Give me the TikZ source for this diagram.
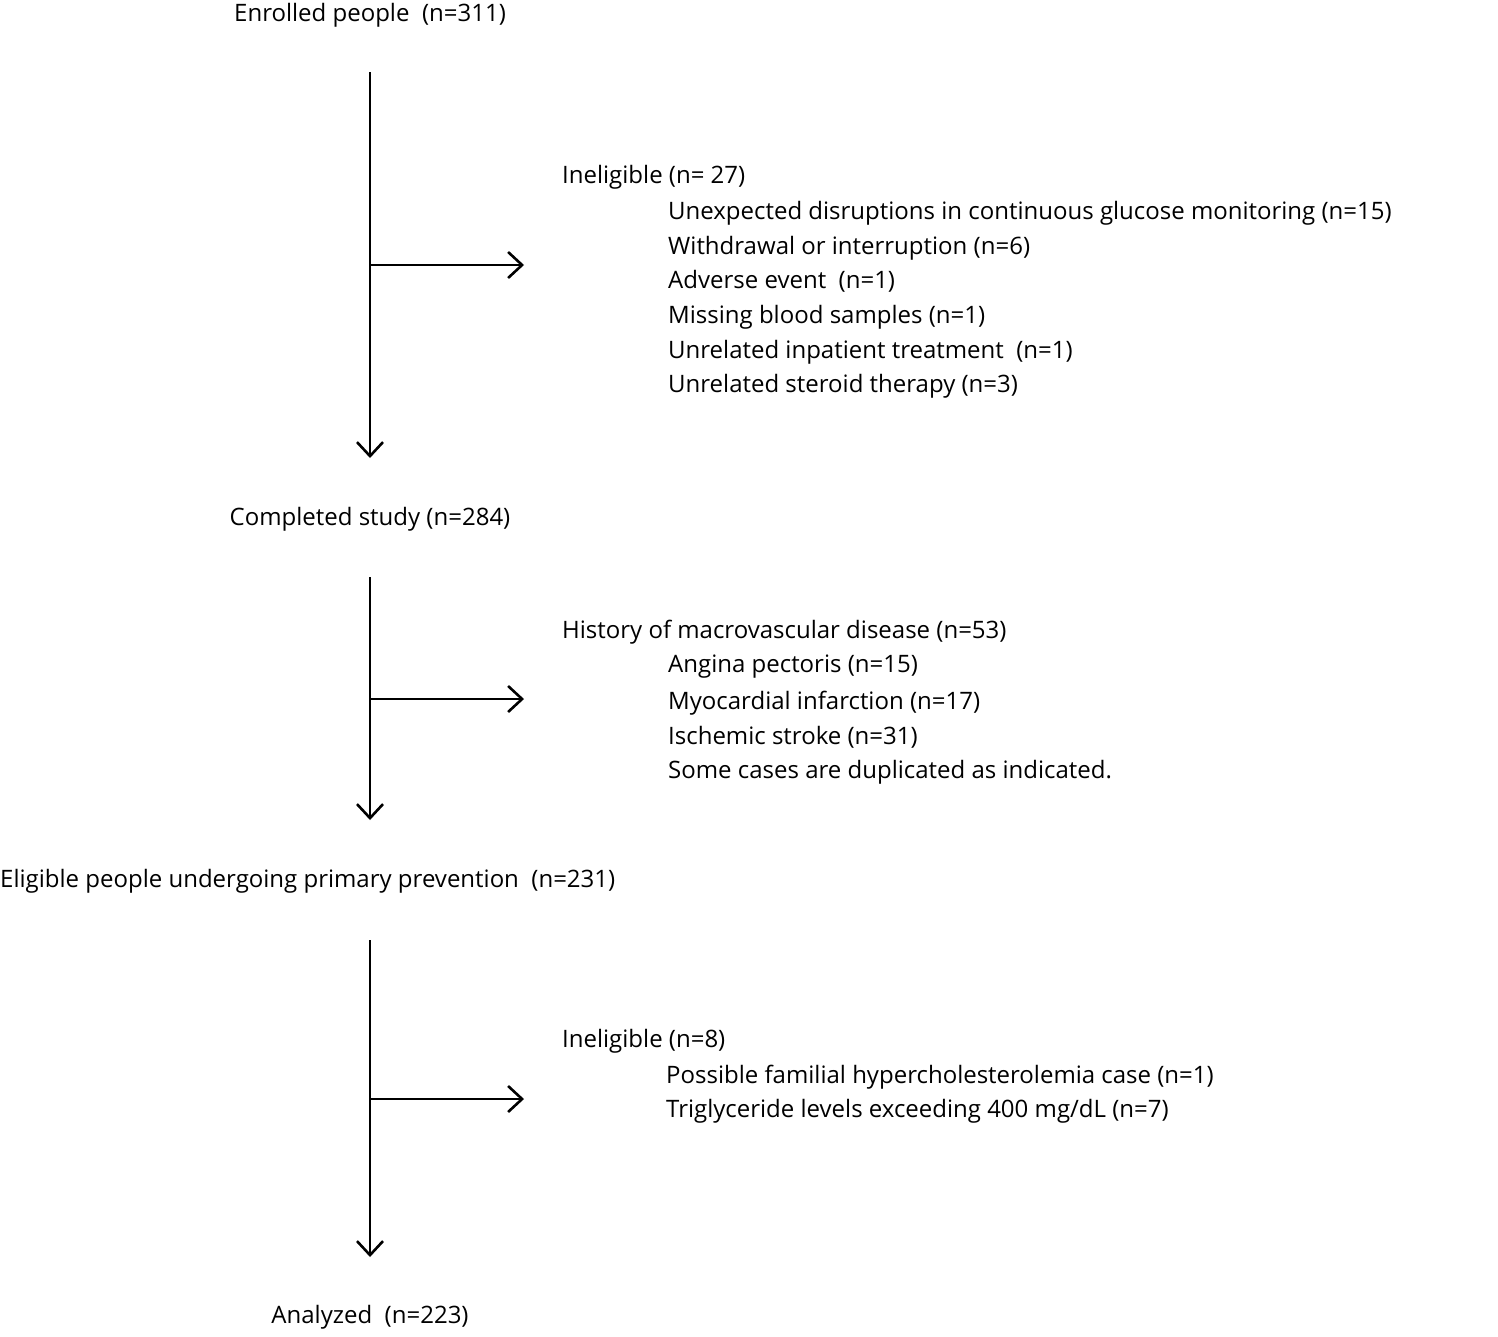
\documentclass[tikz,border=0pt]{standalone}
\usepackage{fontspec}
\setmainfont{Open Sans}
\usetikzlibrary{arrows.meta}
\begin{document}
\begin{tikzpicture}[x=1pt,y=-1pt,
  txt/.style={inner sep=0pt,anchor=west,font=\fontsize{24}{28}\selectfont},
  ctxt/.style={inner sep=0pt,anchor=center,font=\fontsize{24}{28}\selectfont},
  arr/.style={line width=2.6pt,-{Straight Barb[length=14pt,width=26pt,line width=2.6pt]}},
  ln/.style={line width=2.6pt}]
\useasboundingbox (0,0) rectangle (1498,1336);
\node[ctxt] (enr) at (370,15) {Enrolled people~ (n=311)};
\coordinate (a1) at (370,72); \coordinate (b1) at (370,458);
\coordinate (m1) at (370,265); \coordinate (e1) at (524,265);
\draw[arr] (a1) -- (b1);
\draw[arr] (m1) -- (e1);
\node[txt] (i1) at (562,177) {Ineligible (n= 27)};
\node[txt] (i1a) at (668,213) {Unexpected disruptions in continuous glucose monitoring (n=15)};
\node[txt] (i1b) at (668,248) {Withdrawal or interruption (n=6)};
\node[txt] (i1c) at (668,281) {Adverse event~ (n=1)};
\node[txt] (i1d) at (668,317) {Missing blood samples (n=1)};
\node[txt] (i1e) at (668,352) {Unrelated inpatient treatment~ (n=1)};
\node[txt] (i1f) at (668,386) {Unrelated steroid therapy (n=3)};
\node[ctxt] (comp) at (370,519) {Completed study (n=284)};
\coordinate (a2) at (370,577); \coordinate (b2) at (370,820);
\coordinate (m2) at (370,699); \coordinate (e2) at (524,699);
\draw[arr] (a2) -- (b2);
\draw[arr] (m2) -- (e2);
\node[txt] (h) at (562,632) {History of macrovascular disease (n=53)};
\node[txt] (ha) at (668,667) {Angina pectoris (n=15)};
\node[txt] (hb) at (668,703) {Myocardial infarction (n=17)};
\node[txt] (hc) at (668,737) {Ischemic stroke (n=31)};
\node[txt] (hd) at (668,772) {Some cases are duplicated as indicated.};
\node[txt] (elig) at (0,881) {Eligible people undergoing primary prevention~ (n=231)};
\coordinate (a3) at (370,940); \coordinate (b3) at (370,1257);
\coordinate (m3) at (370,1099); \coordinate (e3) at (524,1099);
\draw[arr] (a3) -- (b3);
\draw[arr] (m3) -- (e3);
\node[txt] (i3) at (562,1041) {Ineligible (n=8)};
\node[txt] (i3a) at (666,1077) {Possible familial hypercholesterolemia case (n=1)};
\node[txt] (i3b) at (666,1111) {Triglyceride levels exceeding 400 mg/dL (n=7)};
\node[ctxt] (an) at (370,1317) {Analyzed~ (n=223)};
\end{tikzpicture}
\end{document}
